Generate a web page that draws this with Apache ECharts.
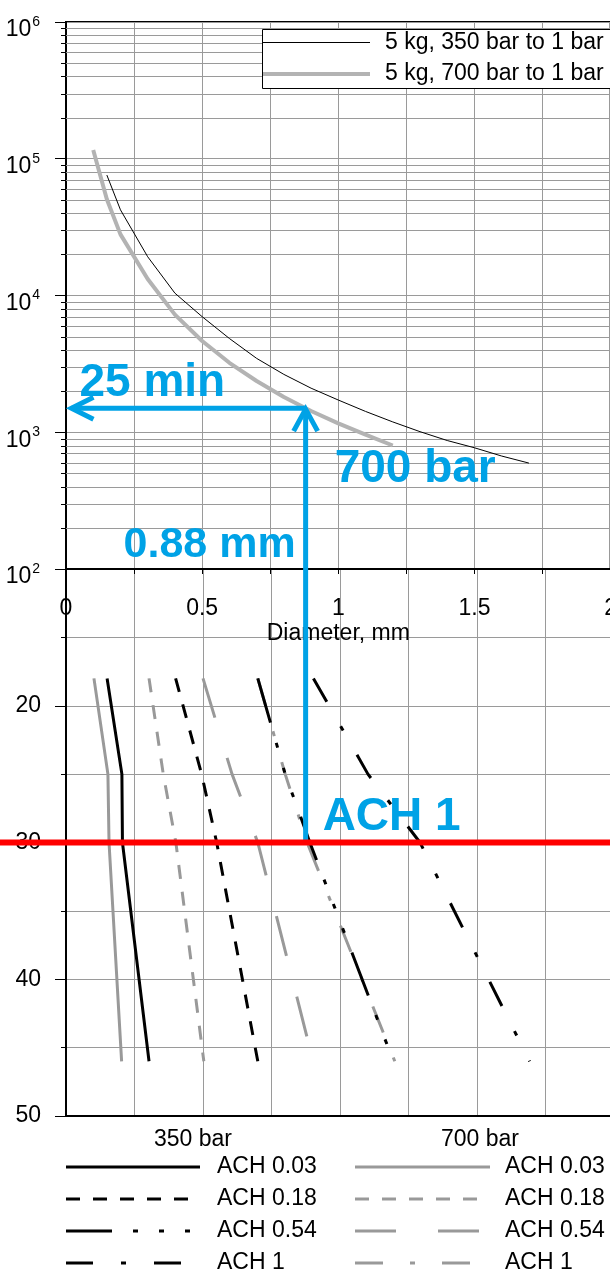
<!DOCTYPE html>
<html>
<head>
<meta charset="utf-8">
<script src="https://cdn.jsdelivr.net/npm/echarts@6/dist/echarts.min.js"></script>
<style>
  html, body { margin: 0; padding: 0; background: #fff; overflow: hidden; }
  /* the plot area runs a few pixels past the right edge of the page */
  #chart { width: 620px; height: 1273px; }
</style>
</head>
<body>
<div id="chart"></div>
<script>
// Upper panel: time to empty a 5 kg tank (s) against leak diameter (mm)
const diam350 = [0.15, 0.2, 0.3, 0.4, 0.5, 0.6, 0.7, 0.8, 0.9, 1.0, 1.1, 1.2, 1.3, 1.4, 1.5, 1.6, 1.7];
const time350 = [76000, 42300, 19200, 10400, 7000, 4850, 3470, 2650, 2100, 1720, 1420, 1190, 1010, 870, 770, 670, 595];
const diam700 = [0.1, 0.15, 0.2, 0.3, 0.4, 0.5, 0.6, 0.7, 0.8, 0.9, 1.0, 1.1, 1.2];
const time700 = [116000, 50500, 28000, 13200, 7250, 4650, 3220, 2370, 1810, 1430, 1160, 960, 800];

// Lower panel: levels on the inverted axis and the diameter reached at each level
const levels = [18, 25, 30, 46];
const d350ach003 = [0.150, 0.204, 0.206, 0.303];
const d350ach018 = [0.400, 0.495, 0.550, 0.700];
const d350ach054 = [0.700, 0.800, 0.890, 1.195];
const d350ach1   = [0.903, 1.102, 1.292, 1.692];
const d700ach003 = [0.102, 0.153, 0.157, 0.203];
const d700ach018 = [0.303, 0.355, 0.401, 0.503];
const d700ach054 = [0.500, 0.606, 0.700, 0.902];
const d700ach1   = [0.700, 0.800, 0.880, 1.200];

// Tick labels
const logExponents = [2, 3, 4, 5, 6];
const lowerTickLabels = [20, 30, 40, 50];

// Worked example: ACH 1 at 700 bar -> 0.88 mm -> 25 min (1500 s)
const markACH = 30;
const markDiam = 0.88;
const markTime = 1500;
const arrowTipDiam = 0.02;

const FONT = "'Liberation Sans', Arial, Helvetica, sans-serif";
const GRID_GRAY = '#9a9a9a';
const GRAY = '#999999';
const BLUE = '#00a2e6';

const pairs = (xs, ys) => xs.map((x, i) => [x, ys[i]]);

// Line styles of the eight lower-panel series
const lowerSeries = [
  { name: 'ACH 0.03', xs: d350ach003, color: '#000', dash: 'solid', col: 0 },
  { name: 'ACH 0.18', xs: d350ach018, color: '#000', dash: [14, 13], col: 0 },
  { name: 'ACH 0.54', xs: d350ach054, color: '#000', dash: [46, 21, 5, 21, 5, 21, 5, 21], col: 0 },
  { name: 'ACH 1',    xs: d350ach1,   color: '#000', dash: [27, 28, 5, 28], col: 0 },
  { name: 'ACH 0.03', xs: d700ach003, color: GRAY, dash: 'solid', col: 1 },
  { name: 'ACH 0.18', xs: d700ach018, color: GRAY, dash: [14, 13], col: 1 },
  { name: 'ACH 0.54', xs: d700ach054, color: GRAY, dash: [41, 42], col: 1 },
  { name: 'ACH 1',    xs: d700ach1,   color: GRAY, dash: [28, 27, 5, 27], col: 1 }
];

// Minor gridlines of the log axis (2..9 within each decade)
const logMinor = [];
logExponents.slice(0, -1).forEach(e => {
  for (let k = 2; k <= 9; k++) logMinor.push([0, k * Math.pow(10, e)]);
});

const chart = echarts.init(document.getElementById('chart'), null, { renderer: 'canvas' });

const axisText = { fontSize: 23, color: '#000', fontFamily: FONT };

const option = {
  animation: false,
  backgroundColor: '#fff',
  grid: [
    { left: 66, top: 22, width: 548, height: 547, show: true, borderColor: '#000', borderWidth: 2 },
    { left: 66, top: 569, width: 548, height: 547, show: true, borderColor: '#000', borderWidth: 2 }
  ],
  xAxis: [
    {
      gridIndex: 0, type: 'value', min: 0, max: 2, interval: 0.5, position: 'bottom',
      axisLine: { show: true, onZero: false, lineStyle: { color: '#000', width: 2 } },
      axisTick: { show: true, length: 5, lineStyle: { color: '#000', width: 1 } },
      minorTick: { show: true, splitNumber: 2, length: 5, lineStyle: { color: '#000', width: 1 } },
      splitLine: { show: true, lineStyle: { color: GRID_GRAY, width: 1 } },
      minorSplitLine: { show: true, lineStyle: { color: GRID_GRAY, width: 1 } },
      axisLabel: Object.assign({ margin: 28, showMaxLabel: true, formatter: v => String(v) }, axisText),
      name: 'Diameter, mm', nameLocation: 'middle', nameGap: 53,
      nameTextStyle: axisText
    },
    {
      gridIndex: 1, type: 'value', min: 0, max: 2, interval: 0.5, position: 'bottom',
      axisLine: { show: true, onZero: false, lineStyle: { color: '#000', width: 2 } },
      axisTick: { show: false },
      axisLabel: { show: false },
      splitLine: { show: true, lineStyle: { color: GRID_GRAY, width: 1 } },
      minorTick: { show: false, splitNumber: 2 },
      minorSplitLine: { show: true, lineStyle: { color: GRID_GRAY, width: 1 } }
    }
  ],
  yAxis: [
    {
      gridIndex: 0, type: 'log', logBase: 10, min: 100, max: 1000000,
      axisLine: { show: true, onZero: false, lineStyle: { color: '#000', width: 2 } },
      axisTick: { show: true, length: 11, lineStyle: { color: '#000', width: 1 } },
      splitLine: { show: true, lineStyle: { color: GRID_GRAY, width: 1 } },
      axisLabel: {
        margin: 26, color: '#000', fontFamily: FONT, fontSize: 23,
        padding: [10, 0, 0, 0],
        formatter: v => '{b|10}{s|' + Math.round(Math.log10(v)) + '}',
        rich: {
          b: { fontSize: 23, fontFamily: FONT, color: '#000', padding: [6, 0, 0, 0] },
          s: { fontSize: 14, fontFamily: FONT, color: '#000', padding: [0, 0, 10, 1] }
        }
      }
    },
    {
      gridIndex: 1, type: 'value', inverse: true, min: 10, max: 50, interval: 10,
      axisLine: { show: true, onZero: false, lineStyle: { color: '#000', width: 2 } },
      axisTick: { show: true, length: 11, lineStyle: { color: '#000', width: 1 } },
      minorTick: { show: true, splitNumber: 2, length: 5, lineStyle: { color: '#000', width: 1 } },
      splitLine: { show: true, lineStyle: { color: GRID_GRAY, width: 1 } },
      minorSplitLine: { show: true, lineStyle: { color: GRID_GRAY, width: 1 } },
      axisLabel: Object.assign({
        margin: 25,
        formatter: v => (lowerTickLabels.indexOf(v) >= 0 ? String(v) : '')
      }, axisText)
    }
  ],
  series: [
    {
      name: 'log-minor', type: 'custom', xAxisIndex: 0, yAxisIndex: 0, silent: true,
      clip: false, z: 1, data: logMinor,
      renderItem: (params, api) => {
        const a = api.coord([0, api.value(1)]);
        const b = api.coord([2, api.value(1)]);
        const y = Math.round(a[1]) + 0.5;
        return {
          type: 'group',
          children: [
            { type: 'line', shape: { x1: a[0], y1: y, x2: b[0], y2: y }, style: { stroke: GRID_GRAY, lineWidth: 1 } },
            { type: 'line', shape: { x1: a[0] - 5, y1: y, x2: a[0], y2: y }, style: { stroke: '#000', lineWidth: 1 } }
          ]
        };
      }
    },
    {
      name: '5 kg, 350 bar to 1 bar', type: 'line', xAxisIndex: 0, yAxisIndex: 0,
      data: pairs(diam350, time350), showSymbol: false, symbol: 'none', z: 3,
      lineStyle: { color: '#000', width: 1 }
    },
    {
      name: '5 kg, 700 bar to 1 bar', type: 'line', xAxisIndex: 0, yAxisIndex: 0,
      data: pairs(diam700, time700), showSymbol: false, symbol: 'none', z: 3,
      lineStyle: { color: '#b3b3b3', width: 4 }
    }
  ].concat(lowerSeries.map(s => ({
    name: s.name + (s.col ? ' (700 bar)' : ' (350 bar)'), type: 'line',
    xAxisIndex: 1, yAxisIndex: 1,
    data: pairs(s.xs, levels), showSymbol: false, symbol: 'none',
    z: s.col ? 3 : 4,
    lineStyle: { color: s.color, width: 3, type: s.dash, cap: 'butt' }
  })))
};

chart.setOption(option);

// Annotations and legends, positioned through the axes
const px = (g, x, y) => chart.convertToPixel({ xAxisIndex: g, yAxisIndex: g }, [x, y]);
const corner = px(0, markDiam, markTime);
const foot = px(1, markDiam, markACH);
const tip = px(0, arrowTipDiam, markTime);

const graphics = [];
const text = (x, y, str, opts) => graphics.push({
  type: 'text', z: 120, silent: true, x: x, y: y,
  style: Object.assign({ text: str, font: '23px ' + FONT, fill: '#000', verticalAlign: 'middle', align: 'left' }, opts || {})
});
const seg = (x1, y1, x2, y2, style, z) => graphics.push({
  type: 'line', z: z || 110, silent: true, shape: { x1, y1, x2, y2 }, style: style
});

// Blue path: ACH level -> diameter -> emptying time
const blueStyle = { stroke: BLUE, lineWidth: 5, lineCap: 'butt' };
seg(corner[0], foot[1], corner[0], corner[1] + 1, blueStyle, 105);
graphics.push({ type: 'polyline', z: 105, silent: true,
  shape: { points: [[corner[0] - 12, corner[1] + 23], [corner[0], corner[1] + 1], [corner[0] + 12, corner[1] + 23]] },
  style: { stroke: BLUE, lineWidth: 5, fill: null, lineJoin: 'miter' } });
seg(corner[0], corner[1], tip[0], tip[1], blueStyle, 105);
graphics.push({ type: 'polyline', z: 105, silent: true,
  shape: { points: [[tip[0] + 22, tip[1] - 11], [tip[0], tip[1]], [tip[0] + 22, tip[1] + 11]] },
  style: { stroke: BLUE, lineWidth: 5, fill: null, lineJoin: 'miter' } });

// Red line marking the ACH level
seg(0, foot[1], 620, foot[1], { stroke: '#ff0000', lineWidth: 6 }, 108);

const bold = 'bold 46px ' + FONT;
text(tip[0] + 8, corner[1] - 25, '25 min', { font: bold, fill: BLUE });
text(corner[0] + 29, corner[1] + 61, '700 bar', { font: bold, fill: BLUE });
text(corner[0] - 10, corner[1] + 137, '0.88 mm', { font: 'bold 43px ' + FONT, fill: BLUE, align: 'right' });
text(corner[0] + 17, foot[1] - 25, 'ACH 1', { font: bold, fill: BLUE });

// Upper legend
graphics.push({ type: 'rect', z: 100, silent: true, shape: { x: 262.5, y: 29.5, width: 360, height: 59 },
  style: { fill: '#fff', stroke: '#000', lineWidth: 1 } });
seg(263, 42.5, 370, 42.5, { stroke: '#000', lineWidth: 1 }, 101);
seg(263, 74, 370, 74, { stroke: '#b3b3b3', lineWidth: 4 }, 101);
text(385, 43, '5 kg, 350 bar to 1 bar');
text(385, 74, '5 kg, 700 bar to 1 bar');

// Lower legend: two columns, one per pressure
text(193, 1140, '350 bar', { align: 'center' });
text(480, 1140, '700 bar', { align: 'center' });
const rowY = [1167, 1199, 1231, 1263];
lowerSeries.forEach((s, i) => {
  const r = i % 4;
  const x0 = s.col ? 355 : 66;
  const x1 = s.col ? 490 : 200;
  seg(x0, rowY[r], x1, rowY[r], {
    stroke: s.color, lineWidth: 3, lineCap: 'butt',
    lineDash: s.dash === 'solid' ? null : s.dash
  }, 101);
  text(s.col ? 505 : 217, rowY[r], s.name);
});

chart.setOption({ graphic: graphics });
</script>
</body>
</html>
